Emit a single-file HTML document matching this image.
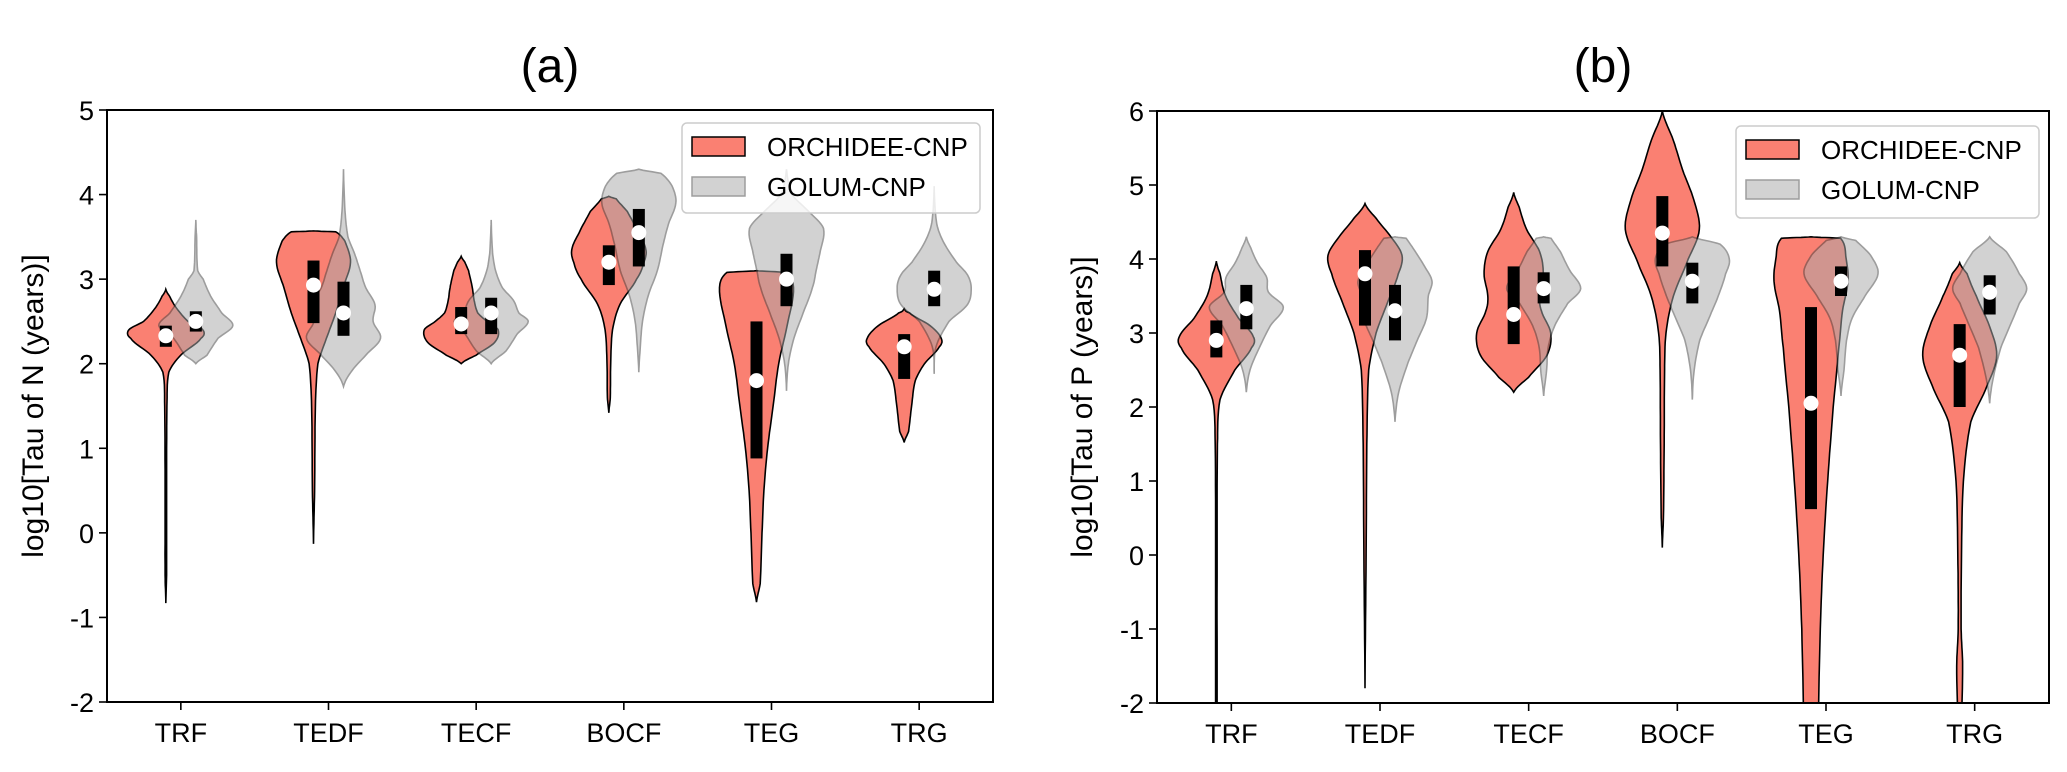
<!DOCTYPE html>
<html><head><meta charset="utf-8"><style>
body{margin:0;background:#fff;}
svg{display:block;font-family:"Liberation Sans","DejaVu Sans",sans-serif;}
</style></head><body>
<svg id="chart" width="2067" height="772" viewBox="0 0 2067 772" xmlns="http://www.w3.org/2000/svg"></svg>
<script>
const categories = ["TRF","TEDF","TECF","BOCF","TEG","TRG"];
const seriesNames = ["ORCHIDEE-CNP","GOLUM-CNP"];
// Panel (a): N
const nTicks = [5,4,3,2,1,0,-1,-2];
const nOrchQ1 = [2.20,2.48,2.35,2.93,0.88,1.82];
const nOrchQ3 = [2.45,3.22,2.67,3.40,2.50,2.35];
const nOrchMed = [2.33,2.93,2.47,3.20,1.80,2.20];
const nGolQ1 = [2.38,2.33,2.35,3.15,2.68,2.68];
const nGolQ3 = [2.62,2.97,2.78,3.83,3.30,3.10];
const nGolMed = [2.50,2.60,2.60,3.55,3.00,2.88];
const nOrchDens = [
 [[-0.83,0],[-0.5,.02],[0.5,.02],[1.5,.03],[1.9,.08],[2.1,.4],[2.3,.95],[2.4,1],[2.5,.6],[2.65,.3],[2.8,.1],[2.88,0]],
 [[-0.13,0],[0.5,.03],[1.5,.05],[2.0,.12],[2.3,.35],[2.6,.6],[2.9,.8],[3.2,1],[3.45,.85],[3.56,.6],[3.57,0]],
 [[2.0,0],[2.1,.4],[2.25,.9],[2.4,1],[2.5,.7],[2.6,.45],[2.75,.35],[2.9,.3],[3.1,.2],[3.2,.1],[3.27,0]],
 [[1.42,0],[1.6,.04],[2.0,.05],[2.4,.1],[2.7,.3],[3.0,.75],[3.2,.95],[3.35,1],[3.55,.8],[3.8,.5],[3.95,.2],[3.98,0]],
 [[-0.82,0],[-0.6,.1],[0,.15],[0.5,.2],[1.0,.3],[1.5,.45],[2.0,.6],[2.5,.85],[2.9,1],[3.08,.8],[3.1,0]],
 [[1.07,0],[1.2,.12],[1.5,.2],[1.8,.3],[2.0,.55],[2.2,.95],[2.3,1],[2.45,.7],[2.6,.15],[2.65,0]]
];
const nGolDens = [
 [[2.0,0],[2.1,.3],[2.3,.6],[2.45,1],[2.6,.7],[2.8,.4],[3.0,.2],[3.1,.05],[3.5,.02],[3.7,0]],
 [[1.73,0],[1.9,.2],[2.1,.6],[2.3,1],[2.5,.8],[2.7,.85],[2.9,.6],[3.1,.45],[3.3,.3],[3.5,.12],[3.8,.04],[4.3,0]],
 [[2.0,0],[2.15,.4],[2.35,.7],[2.5,1],[2.6,.75],[2.75,.6],[2.9,.3],[3.1,.12],[3.3,.04],[3.7,0]],
 [[1.9,0],[2.2,.04],[2.5,.1],[2.8,.25],[3.1,.5],[3.4,.65],[3.65,.8],[3.9,1],[4.1,.9],[4.25,.6],[4.3,0]],
 [[1.68,0],[2.0,.05],[2.3,.2],[2.6,.45],[2.9,.7],[3.1,.8],[3.3,.9],[3.6,1],[3.8,.6],[4.0,.15],[4.3,0]],
 [[1.88,0],[2.2,.05],[2.5,.4],[2.7,.9],[2.9,1],[3.05,.9],[3.2,.6],[3.4,.3],[3.6,.1],[3.8,.03],[4.1,0]]
];
// Panel (b): P
const pTicks = [6,5,4,3,2,1,0,-1,-2];
const pOrchQ1 = [2.67,3.10,2.85,3.90,0.62,2.00];
const pOrchQ3 = [3.17,4.12,3.90,4.85,3.35,3.12];
const pOrchMed = [2.90,3.80,3.25,4.35,2.05,2.70];
const pGolQ1 = [3.05,2.90,3.40,3.40,3.50,3.25];
const pGolQ3 = [3.65,3.65,3.82,3.95,3.90,3.78];
const pGolMed = [3.33,3.30,3.60,3.70,3.70,3.55];
const pOrchDens = [
 [[-2.3,.02],[0,.02],[1.5,.03],[2.1,.1],[2.5,.5],[2.8,.95],[2.95,1],[3.2,.6],[3.5,.25],[3.8,.1],[3.97,0]],
 [[-1.8,0],[0,.03],[1.5,.05],[2.5,.1],[3.0,.3],[3.4,.6],[3.8,.9],[4.05,1],[4.3,.7],[4.55,.3],[4.75,0]],
 [[2.2,0],[2.4,.4],[2.7,.9],[3.0,1],[3.3,.75],[3.5,.7],[3.8,.8],[4.1,.7],[4.4,.35],[4.7,.15],[4.9,0]],
 [[0.1,0],[0.5,.03],[1.5,.05],[2.5,.06],[3.0,.1],[3.5,.3],[4.0,.7],[4.4,1],[4.8,.85],[5.2,.55],[5.6,.3],[6.0,0]],
 [[-2.3,.2],[-1.0,.25],[0,.33],[1.0,.45],[2.0,.6],[2.8,.75],[3.3,.85],[3.7,1],[4.0,.95],[4.28,.8],[4.3,0]],
 [[-2.3,.05],[-1.5,.08],[-1.0,.04],[0,.05],[1.0,.1],[1.8,.3],[2.3,.75],[2.7,1],[3.1,.8],[3.5,.45],[3.8,.2],[3.95,0]]
];
const pGolDens = [
 [[2.2,0],[2.5,.1],[2.8,.35],[3.1,.65],[3.35,1],[3.55,.6],[3.75,.55],[3.95,.3],[4.15,.12],[4.3,0]],
 [[1.8,0],[2.2,.1],[2.6,.35],[2.9,.6],[3.2,.85],[3.5,.9],[3.7,1],[3.9,.8],[4.1,.55],[4.28,.3],[4.3,0]],
 [[2.15,0],[2.5,.08],[2.8,.12],[3.1,.3],[3.4,.65],[3.6,1],[3.85,.7],[4.1,.45],[4.28,.2],[4.3,0]],
 [[2.1,0],[2.5,.05],[2.9,.2],[3.2,.45],[3.5,.7],[3.8,.9],[4.0,1],[4.2,.75],[4.3,0]],
 [[2.15,0],[2.5,.08],[2.9,.15],[3.2,.3],[3.5,.65],[3.8,1],[4.05,.8],[4.25,.4],[4.3,0]],
 [[2.05,0],[2.4,.1],[2.8,.3],[3.1,.55],[3.4,.8],[3.6,1],[3.8,.8],[4.1,.45],[4.3,0]]
];

const NS="http://www.w3.org/2000/svg";
const svg=document.getElementById('chart');
function mk(tag,attrs,parent){const e=document.createElementNS(NS,tag);for(const k in attrs)e.setAttribute(k,attrs[k]);(parent||svg).appendChild(e);return e;}

const panels=[
 {id:'a',title:'(a)',ylabel:'log10[Tau of N (years)]',x0:107,x1:993,y0:110,y1:702,ymin:-2,ymax:5,ticks:nTicks,
  oq1:nOrchQ1,oq3:nOrchQ3,om:nOrchMed,gq1:nGolQ1,gq3:nGolQ3,gm:nGolMed,od:nOrchDens,gd:nGolDens,labx:33,leg:[682,123,298,90]},
 {id:'b',title:'(b)',ylabel:'log10[Tau of P (years)]',x0:1157,x1:2049,y0:111,y1:703,ymin:-2,ymax:6,ticks:pTicks,
  oq1:pOrchQ1,oq3:pOrchQ3,om:pOrchMed,gq1:pGolQ1,gq3:pGolQ3,gm:pGolMed,od:pOrchDens,gd:pGolDens,labx:1082,leg:[1736,126,303,92]}
];

function interp(pts){
  const out=[];
  for(let i=0;i<pts.length-1;i++){
    const p0=pts[Math.max(i-1,0)],p1=pts[i],p2=pts[i+1],p3=pts[Math.min(i+2,pts.length-1)];
    for(let s=0;s<8;s++){const t=s/8,t2=t*t,t3=t2*t;
      const f=(a,b,c,d)=>0.5*((2*b)+(-a+c)*t+(2*a-5*b+4*c-d)*t2+(-a+3*b-3*c+d)*t3);
      out.push([p1[0]+(p2[0]-p1[0])*t, Math.max(0,f(p0[1],p1[1],p2[1],p3[1]))]);}
  }
  out.push(pts[pts.length-1]);return out;
}

panels.forEach(P=>{
  const g=mk('g',{});
  
  
  const step=(P.x1-P.x0)/categories.length;
  const xA=i=>P.x0+step*(i+0.5);
  const yA=v=>P.y1-(v-P.ymin)/(P.ymax-P.ymin)*(P.y1-P.y0);
  const half=37, off=15;
  const clipId='clip'+P.id;
  const cp=mk('clipPath',{id:clipId},g);mk('rect',{x:P.x0,y:P.y0,width:P.x1-P.x0,height:P.y1-P.y0},cp);
  const plot=mk('g',{'clip-path':'url(#'+clipId+')'},g);
  function violin(dens,cx,fill,stroke,op,name){
    const pts=interp(dens);
    let d='';
    pts.forEach((p,k)=>{d+=(k?'L':'M')+(cx+p[1]*half).toFixed(1)+','+yA(p[0]).toFixed(1);});
    for(let k=pts.length-1;k>=0;k--){const p=pts[k];d+='L'+(cx-p[1]*half).toFixed(1)+','+yA(p[0]).toFixed(1);}
    d+='Z';
    const e=mk('path',{d:d,fill:fill,stroke:stroke,'stroke-width':1.6,opacity:op},plot);
    
    
  }
  categories.forEach((c,i)=>violin(P.od[i],xA(i)-off,'#fa8072','#000',1,'orchidee-violin-'+c.toLowerCase()));
  categories.forEach((c,i)=>violin(P.gd[i],xA(i)+off,'#aaaaaa','#444',0.52,'golum-violin-'+c.toLowerCase()));
  function box(q1,q3,m,cx,name){
    const r=mk('rect',{x:cx-6,y:yA(q3),width:12,height:yA(q1)-yA(q3),fill:'#000'},plot);
    
    
    const c=mk('circle',{cx:cx,cy:yA(m),r:7.5,fill:'#fff'},plot);
    
    
  }
  categories.forEach((c,i)=>{box(P.oq1[i],P.oq3[i],P.om[i],xA(i)-off,'orchidee-'+c.toLowerCase());
    box(P.gq1[i],P.gq3[i],P.gm[i],xA(i)+off,'golum-'+c.toLowerCase());});
  const fr=mk('rect',{x:P.x0,y:P.y0,width:P.x1-P.x0,height:P.y1-P.y0,fill:'none',stroke:'#000','stroke-width':2},g);
  
  
  P.ticks.forEach(v=>{
    mk('line',{x1:P.x0-8,x2:P.x0,y1:yA(v),y2:yA(v),stroke:'#000','stroke-width':1.6},g);
    const t=mk('text',{x:P.x0-13,y:yA(v)+10,'text-anchor':'end','font-size':27},g);t.textContent=v;
    
    
  });
  categories.forEach((c,i)=>{
    mk('line',{x1:xA(i),x2:xA(i),y1:P.y1,y2:P.y1+8,stroke:'#000','stroke-width':1.6},g);
    const t=mk('text',{x:xA(i),y:P.y1+40,'text-anchor':'middle','font-size':27},g);t.textContent=c;
    
    
  });
  const yl=mk('text',{x:P.labx,y:(P.y0+P.y1)/2,'text-anchor':'middle','font-size':30,transform:`rotate(-90 ${P.labx} ${(P.y0+P.y1)/2})`,dy:10},g);
  yl.textContent=P.ylabel;
  
  
  const tt=mk('text',{x:(P.x0+P.x1)/2,y:82,'text-anchor':'middle','font-size':48},g);
  tt.textContent=P.title;
  
  
  const [lx,ly,lw,lh]=P.leg;
  const lg=mk('g',{},g);
  
  
  mk('rect',{x:lx,y:ly,width:lw,height:lh,rx:5,fill:'#fff','fill-opacity':0.8,stroke:'#ccc','stroke-width':1.5},lg);
  const cols=[['#fa8072','#000',1],['#aaaaaa','#444',0.52]];
  seriesNames.forEach((s,k)=>{
    const yy=ly+14+k*40;
    const pr=mk('rect',{x:lx+10,y:yy,width:53,height:19,fill:cols[k][0],stroke:cols[k][1],'stroke-width':1.5,opacity:cols[k][2]},lg);
    
    
    const t=mk('text',{x:lx+85,y:yy+19,'font-size':26},lg);t.textContent=s;
    
    
  });
});
</script>
</body></html>
